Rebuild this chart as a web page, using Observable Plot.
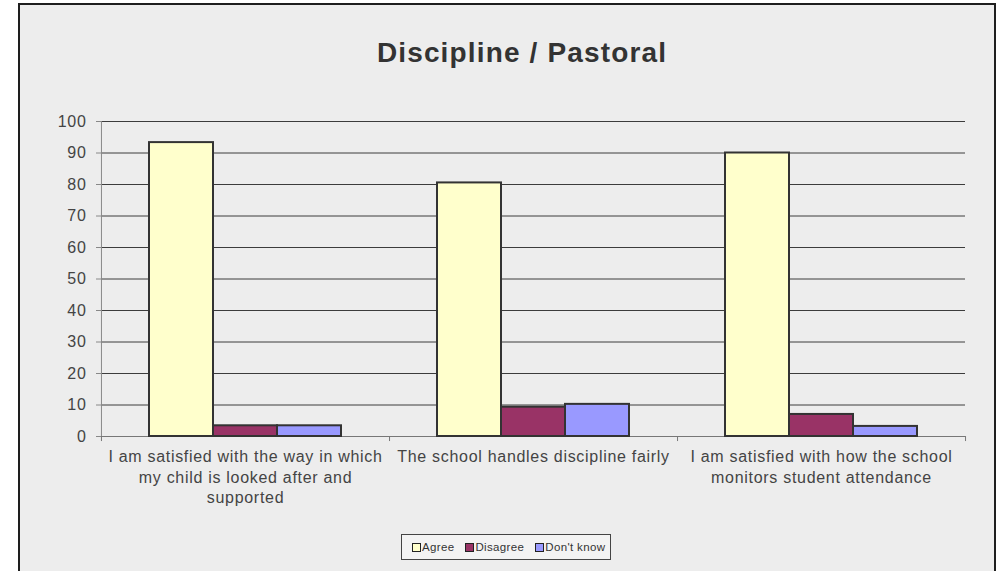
<!DOCTYPE html>
<html><head><meta charset="utf-8">
<script src="https://cdn.jsdelivr.net/npm/d3@7"></script>
<script src="https://cdn.jsdelivr.net/npm/@observablehq/plot@0.6"></script>
<style>
body{margin:0;background:#fff;width:1000px;height:571px;overflow:hidden;position:relative;font-family:"Liberation Sans",Arial,sans-serif}
#panel{position:absolute;left:18px;top:3px;width:974px;height:620px;border:2px solid #1e1e1e;background:#ededed}
#title{position:absolute;left:272px;top:37px;width:500px;text-align:center;font-size:28px;letter-spacing:1.15px;font-weight:bold;color:#333}
#chart{position:absolute;left:0;top:0}
#chart svg text{letter-spacing:0.7px}
#legend{position:absolute;left:401px;top:534px;width:198px;height:24px;padding-left:10px;border:1px solid #444;background:#f3f3f3;display:flex;align-items:center;justify-content:flex-start;gap:11px;font-size:11.5px;letter-spacing:0.35px;color:#333}
#legend span.sw{display:inline-block;width:7px;height:7px;border:1px solid #222;margin-right:1px;vertical-align:-1px}
</style></head>
<body>
<div id="panel"></div>
<div id="title">Discipline / Pastoral</div>
<div id="chart"></div>
<div id="legend"></div>
<script>
const categories = [
  "I am satisfied with the way in which my child is looked after and supported",
  "The school handles discipline fairly",
  "I am satisfied with how the school monitors student attendance"
];
const tickLabels = [
  "I am satisfied with the way in which\nmy child is looked after and\nsupported",
  "The school handles discipline fairly",
  "I am satisfied with how the school\nmonitors student attendance"
];
const series = ["Agree", "Disagree", "Don't know"];
const agree = [93.3, 80.5, 90.0];
const disagree = [3.4, 9.3, 7.0];
const dontKnow = [3.4, 10.2, 3.2];
const colors = ["#ffffcc", "#993366", "#9999ff"];
const yTicks = [0, 10, 20, 30, 40, 50, 60, 70, 80, 90, 100];

const values = [agree, disagree, dontKnow];
const data = [];
categories.forEach((c, i) => series.forEach((s, j) => data.push({category: c, series: s, value: values[j][i]})));

const W = 1000, H = 530, ML = 100, MR = 34, MT = 121, MB = 94;
const padOuter = 0.745;
const step = (W - ML - MR) / categories.length / (series.length + 2 * padOuter);
const edge = step * (0.5 + padOuter);

const chart = Plot.plot({
  width: W, height: H, marginLeft: ML, marginRight: MR, marginTop: MT, marginBottom: MB,
  style: {background: "transparent", fontFamily: "'Liberation Sans', Arial, sans-serif", fontSize: "16px", color: "#444", overflow: "visible"},
  fx: {domain: categories, padding: 0, label: null},
  x: {domain: series, paddingInner: 0, paddingOuter: padOuter, axis: null},
  y: {domain: [0, 100], label: null},
  color: {domain: series, range: colors},
  marks: [
    Plot.gridY(yTicks, {stroke: "#3c3c3c", strokeOpacity: 1}),
    Plot.ruleY([0], {stroke: "#777", strokeOpacity: 1}),
    Plot.ruleX([{category: categories[0]}], {fx: "category", x: () => series[0], dx: -edge, y1: 0, y2: 100, stroke: "#888"}),
    Plot.ruleX(categories.map(c => ({category: c})), {fx: "category", x: () => series[2], dx: edge, y1: 0, y2: -1.6, stroke: "#777"}),
    Plot.ruleX([{category: categories[0]}], {fx: "category", x: () => series[0], dx: -edge, y1: 0, y2: -1.6, stroke: "#777"}),
    Plot.barY(data, {fx: "category", x: "series", y: "value", fill: "series", stroke: "#333", strokeWidth: 2}),
    Plot.axisY(yTicks, {tickSize: 5, tickPadding: 10, fontSize: 16, fill: "#444", stroke: "#888", label: null}),
    Plot.axisFx({anchor: "bottom", tickSize: 0, tickPadding: 11, fontSize: 16, fill: "#444", lineHeight: 1.28, label: null,
      tickFormat: d => tickLabels[categories.indexOf(d)]})
  ]
});
document.getElementById("chart").appendChild(chart);

const legend = document.getElementById("legend");
series.forEach((s, i) => {
  const item = document.createElement("div");
  item.innerHTML = `<span class="sw" style="background:${colors[i]}"></span>${s}`;
  legend.appendChild(item);
});
</script>
</body></html>
